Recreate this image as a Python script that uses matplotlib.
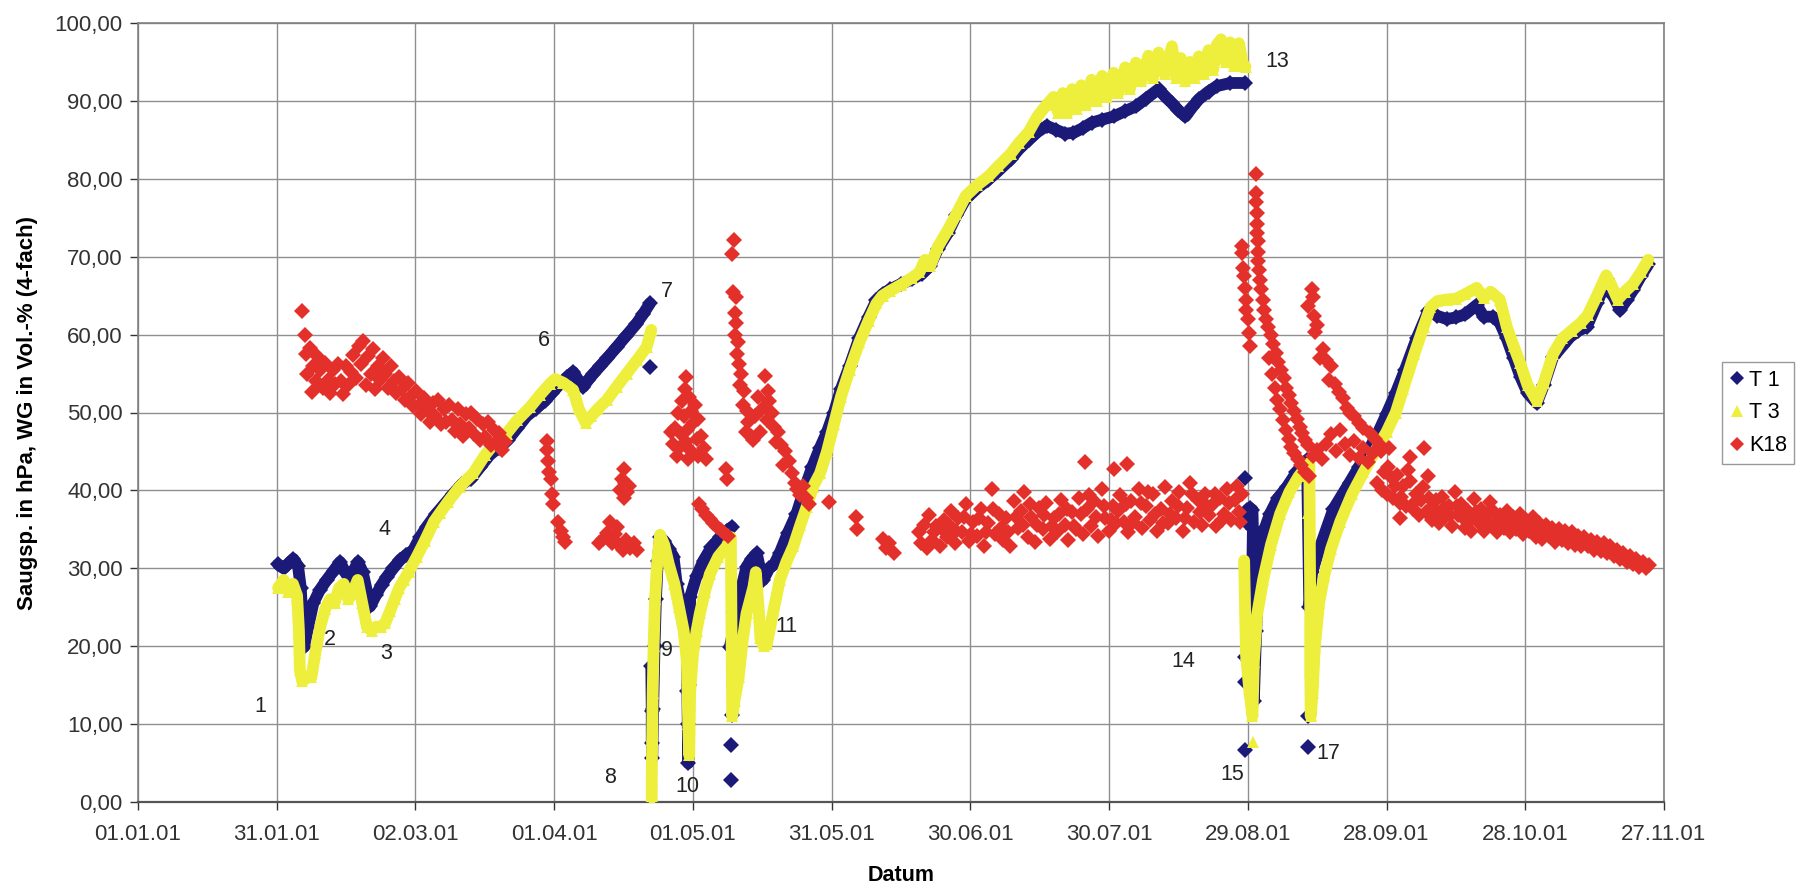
import matplotlib
matplotlib.use('Agg')
import matplotlib.pyplot as plt
import numpy as np

plt.rcParams['font.family'] = ['Liberation Sans', 'DejaVu Sans']

# x values are days counted from 01.01.01
TICK_DAYS = [0, 30, 60, 90, 120, 150, 180, 210, 240, 270, 300, 330]
TICK_LABELS = ['01.01.01', '31.01.01', '02.03.01', '01.04.01', '01.05.01', '31.05.01',
               '30.06.01', '30.07.01', '29.08.01', '28.09.01', '28.10.01', '27.11.01']
Y_TICKS = [0, 10, 20, 30, 40, 50, 60, 70, 80, 90, 100]

# T 1 readings (None = gap in the record)
T1 = [(30.3, 30.5), (31.5, 30.0), (32.5, 30.6), (33.6, 31.2), (34.6, 30.3), (35.2, 27.5),
      (35.6, 23.0), (35.9, 19.9), (36.8, 22.5), (37.9, 25.5), (39.3, 27.2), (40.8, 28.5),
      (42.3, 29.7), (43.7, 30.8), (44.8, 29.5), (45.8, 28.5), (46.7, 29.8), (47.6, 30.8),
      (48.6, 29.5), (49.5, 27.0), (50.2, 25.1), (51.5, 26.6), (52.7, 27.9), (53.8, 28.9),
      (55.2, 30.0), (56.7, 31.1), (58.0, 31.7), (59.5, 32.3), (61.0, 34.0), (62.4, 35.3),
      (64.5, 37.0), (66.5, 38.4), (68.2, 39.6), (70.0, 40.8), (72.0, 41.5), (74.0, 43.0),
      (76.0, 44.5), (78.0, 45.5), (80.0, 46.5), (82.0, 48.0), (84.0, 49.5), (86.0, 50.5),
      (88.0, 51.5), (89.5, 52.5), (91.3, 53.7), (92.7, 54.5), (94.1, 55.2), (95.2, 54.2),
      (96.3, 53.3), (97.4, 54.2), (98.5, 55.0), (100.0, 56.0), (101.5, 57.0), (103.5, 58.4),
      (105.5, 59.8), (107.8, 61.4), (109.3, 62.7), (110.7, 64.0),
      (None, None),
      (111.0, 17.4), (111.1, 11.7), (111.1, 7.6), (111.2, 5.6), (111.4, 12.0), (111.7, 20.0),
      (112.0, 26.0), (112.4, 31.0), (112.9, 34.0), (113.8, 33.5), (114.8, 32.5), (115.8, 31.5),
      (116.5, 28.0), (117.2, 25.9), (118.0, 24.5), (118.7, 23.4), (118.8, 14.3), (118.9, 10.0),
      (119.0, 5.0), (119.2, 15.0), (119.4, 26.3), (120.8, 29.0), (122.3, 31.0), (124.0, 32.7),
      (125.9, 34.0), (127.3, 34.8), (128.4, 35.3),
      (None, None),
      (128.0, 19.9), (129.5, 24.2), (130.5, 27.5), (131.6, 30.2), (132.7, 31.2), (133.8, 31.9),
      (134.5, 30.0), (135.2, 28.5), (136.5, 30.0), (137.6, 30.5), (138.8, 32.0), (140.5, 34.5),
      (142.4, 37.0), (144.0, 40.0), (145.8, 43.0), (147.5, 45.5), (149.0, 47.5), (150.5, 50.0),
      (152.0, 53.0), (153.9, 56.0), (156.0, 59.6), (158.0, 62.3), (159.7, 64.4), (161.0, 65.2),
      (162.6, 65.8), (165.0, 66.5), (167.4, 67.1), (169.5, 67.8), (171.3, 68.8), (173.0, 71.0),
      (175.2, 73.1), (177.0, 75.3), (179.0, 77.4), (181.5, 78.8), (183.9, 79.9), (186.0, 81.0),
      (188.7, 82.5), (190.5, 83.8), (192.6, 85.0), (194.5, 86.0), (196.5, 86.8), (198.5, 86.3),
      (200.5, 85.8), (202.3, 85.9), (204.3, 86.5), (206.2, 87.2), (208.5, 87.6), (211.0, 88.0),
      (213.5, 88.7), (215.8, 89.3), (218.0, 90.3), (220.7, 91.5), (222.2, 90.5), (223.6, 89.7),
      (225.0, 88.8), (226.5, 88.0), (228.0, 89.2), (229.4, 90.2), (231.5, 91.2), (233.3, 91.9),
      (236.2, 92.3), (239.3, 92.3),
      (None, None),
      (239.6, 36.0), (239.9, 37.5), (240.4, 37.7), (241.0, 37.5), (241.1, 35.0), (241.0, 31.0),
      (241.3, 13.0), (241.8, 22.0), (242.6, 32.0), (243.6, 35.0), (244.8, 37.0), (246.5, 39.0),
      (248.4, 40.4), (250.5, 42.3), (252.8, 43.9), (253.3, 25.0), (253.9, 29.5), (255.6, 32.7),
      (258.5, 37.6), (262.0, 41.0), (264.0, 43.0), (266.4, 45.5), (268.0, 47.2), (270.0, 49.8),
      (272.0, 52.5), (274.0, 55.5), (276.5, 59.5), (279.0, 63.0), (281.0, 62.4), (283.0, 62.0),
      (285.0, 62.2), (287.0, 62.6), (289.5, 63.8), (291.0, 62.3), (293.0, 62.3), (294.5, 61.5),
      (296.0, 59.5), (297.5, 57.0), (299.0, 54.5), (300.5, 52.5), (302.5, 51.2), (304.0, 53.5),
      (306.0, 57.1), (308.0, 58.5), (309.7, 59.7), (311.5, 60.5), (313.3, 61.0), (315.5, 64.0),
      (317.7, 67.2), (319.0, 65.0), (320.5, 63.2), (322.0, 64.5), (323.3, 65.7), (325.0, 67.5),
      (326.6, 69.0)]
T1_SINGLE = [(110.7, 55.9), (128.4, 11.2), (128.3, 7.3), (128.3, 2.8), (239.4, 41.6),
             (239.4, 18.6), (239.4, 15.4), (239.4, 6.7), (253.1, 11.1), (253.0, 7.1)]

# T 3 readings
T3 = [(30.3, 27.5), (31.5, 28.5), (32.5, 27.0), (33.5, 28.0), (34.4, 26.5), (34.8, 22.0),
      (35.0, 17.0), (35.5, 15.5), (36.5, 16.0), (37.5, 16.0), (38.3, 19.0), (39.4, 22.5),
      (40.5, 24.8), (41.5, 26.0), (42.5, 25.5), (43.5, 27.5), (44.5, 28.0), (45.5, 26.0),
      (46.5, 27.0), (47.5, 28.5), (48.5, 25.5), (49.5, 22.5), (50.5, 22.0), (51.5, 22.5),
      (52.5, 22.5), (53.5, 23.0), (54.5, 24.5), (55.5, 26.0), (56.5, 27.5), (57.5, 28.5),
      (58.5, 29.5), (60.3, 31.5), (62.0, 33.5), (64.0, 36.0), (65.3, 37.1), (67.0, 38.5),
      (69.6, 40.5), (72.5, 42.2), (75.0, 44.5), (77.0, 46.0), (79.7, 47.3), (82.0, 49.0),
      (84.8, 50.7), (87.0, 52.3), (89.1, 53.7), (90.2, 54.3), (92.0, 53.8), (94.1, 52.9),
      (95.3, 50.5), (96.8, 48.7), (98.0, 49.5), (99.5, 50.5), (101.4, 51.6), (103.5, 53.3),
      (105.7, 55.0), (108.0, 56.8), (110.0, 58.4), (111.0, 60.6),
      (None, None),
      (111.1, 0.0), (111.1, 3.0), (111.2, 8.0), (111.3, 14.0), (111.5, 20.0), (111.8, 26.0),
      (112.3, 31.0), (112.9, 34.3), (113.8, 33.0), (114.8, 30.5), (116.0, 28.0), (117.0, 25.0),
      (118.0, 22.0), (118.7, 18.0), (119.0, 10.0), (119.2, 6.0), (119.4, 14.0), (120.0, 19.0),
      (120.8, 22.0), (121.5, 24.2), (122.6, 27.0), (123.7, 29.3), (125.5, 31.5), (127.3, 32.8),
      (128.2, 34.0), (128.3, 25.0), (128.4, 18.0), (128.5, 11.0), (129.0, 13.0), (129.9, 16.0),
      (130.7, 20.5), (131.6, 24.2), (132.4, 26.0), (133.1, 27.6), (133.6, 29.5), (134.2, 25.0),
      (134.6, 21.0), (135.3, 20.0), (136.0, 20.3), (137.4, 24.5), (138.8, 28.5), (140.2, 30.8),
      (141.7, 32.8), (143.2, 35.5), (144.6, 37.9), (146.0, 40.5), (147.5, 42.2), (149.0, 45.0),
      (150.5, 48.5), (152.0, 52.0), (153.9, 55.5), (156.0, 59.0), (158.0, 61.8), (159.7, 64.0),
      (161.0, 65.0), (162.6, 65.6), (165.0, 66.4), (167.4, 67.3), (169.0, 68.0), (170.2, 69.6),
      (171.3, 68.8), (173.0, 71.3), (175.2, 73.5), (177.0, 75.5), (179.0, 77.8), (181.5, 79.2),
      (183.9, 80.3), (186.0, 81.6), (188.7, 83.2), (190.5, 84.6), (192.6, 86.0), (194.5, 88.0),
      (196.5, 89.5), (198.0, 90.5), (199.0, 88.5), (200.0, 91.0), (201.0, 88.5), (202.0, 91.5),
      (203.0, 89.0), (204.0, 92.0), (205.0, 89.5), (206.2, 92.7), (207.3, 90.0), (208.5, 93.2),
      (209.5, 90.5), (211.0, 93.6), (212.0, 91.0), (213.5, 94.3), (214.5, 91.5), (215.8, 94.9),
      (217.0, 92.5), (218.5, 95.8), (219.5, 93.0), (220.7, 96.2), (222.0, 93.5), (223.6, 97.0),
      (224.5, 93.0), (225.5, 95.5), (226.5, 92.5), (227.5, 95.0), (228.5, 93.0), (229.4, 95.7),
      (230.5, 93.5), (231.5, 96.5), (232.5, 94.0), (233.3, 97.2), (234.2, 97.9), (235.2, 95.0),
      (236.2, 97.5), (237.0, 94.5), (238.1, 97.4), (239.0, 94.5), (239.5, 94.4),
      (None, None),
      (239.2, 31.0), (239.4, 25.0), (239.6, 19.0), (240.3, 14.5), (241.0, 11.0), (241.3, 18.0),
      (242.0, 24.0), (243.3, 28.5), (245.0, 33.0), (247.0, 37.0), (249.0, 39.8), (251.0, 41.8),
      (253.3, 43.5), (253.4, 35.0), (253.5, 25.0), (253.5, 17.0), (253.6, 11.0), (254.0, 14.0),
      (254.5, 20.0), (255.4, 25.5), (256.5, 29.0), (258.0, 32.5), (260.0, 36.0), (262.5, 39.5),
      (265.0, 42.3), (267.5, 45.0), (270.0, 47.5), (272.0, 50.0), (273.6, 53.0), (276.0, 57.5),
      (278.0, 61.0), (279.5, 63.5), (281.0, 64.3), (283.0, 64.5), (285.0, 64.6), (287.0, 65.2),
      (289.5, 66.0), (291.0, 64.7), (292.5, 65.5), (294.5, 64.5), (296.0, 61.0), (297.5, 58.5),
      (298.9, 56.3), (300.5, 53.5), (302.5, 51.5), (304.0, 53.8), (306.0, 57.5), (308.0, 59.5),
      (310.0, 60.5), (312.0, 61.5), (313.5, 62.5), (315.5, 65.0), (317.5, 67.6), (318.5, 66.5),
      (320.0, 64.5), (321.5, 65.5), (323.3, 66.5), (325.0, 68.0), (326.6, 69.6)]
T3_SINGLE = [(241.1, 7.7), (253.0, 37.1), (111.1, 8.5)]

# K18 readings
K18 = [
    # Februar / Maerz
    (35.4, 63.0), (36.1, 60.0), (36.3, 57.5), (36.6, 55.0), (37.1, 58.3), (37.6, 52.6),
    (37.8, 56.0), (38.4, 54.0), (38.8, 57.2), (39.4, 55.5), (39.9, 53.2), (40.5, 56.3),
    (41.0, 54.2), (41.6, 52.5), (42.1, 55.4), (42.7, 53.6), (43.3, 56.2), (43.8, 54.0),
    (44.4, 52.4), (44.9, 56.0), (45.5, 53.5), (46.0, 55.2), (46.6, 57.4), (47.1, 54.4),
    (47.7, 58.6), (48.2, 56.2), (48.7, 59.2), (49.2, 53.5), (49.7, 57.2), (50.3, 55.0),
    (50.8, 58.2), (51.3, 53.0), (51.8, 56.0), (52.4, 54.2), (53.0, 57.0), (53.5, 55.0),
    (54.1, 53.2), (54.7, 56.0), (55.3, 54.0), (55.9, 52.5), (56.5, 54.6), (57.1, 53.0),
    (57.7, 51.6), (58.3, 53.8), (58.9, 52.0), (59.5, 50.8), (60.1, 52.8), (60.7, 51.0),
    (61.3, 49.8), (61.9, 51.9), (62.5, 50.3), (63.1, 48.8), (63.7, 51.2), (64.3, 49.5),
    (64.9, 51.6), (65.5, 48.5), (66.1, 50.5), (66.7, 48.8), (67.3, 51.0), (67.9, 49.0),
    (68.5, 47.6), (69.1, 50.4), (69.7, 48.5), (70.3, 47.0), (70.9, 49.8), (71.5, 48.0),
    (72.1, 50.0), (72.7, 47.2), (73.3, 49.2), (73.9, 46.5), (74.5, 48.5), (75.1, 46.8),
    (75.7, 48.8), (76.3, 45.8), (76.9, 47.8), (77.5, 46.2), (78.1, 47.4), (78.7, 45.2),
    (79.3, 46.2),
    # April
    (88.4, 46.4), (88.5, 45.2), (88.6, 43.8), (88.9, 42.4), (89.3, 41.4), (89.6, 39.6),
    (89.8, 38.2), (90.8, 36.0), (91.4, 34.8), (91.9, 34.0), (92.3, 33.4),
    (105.0, 42.8), (104.6, 41.5), (105.4, 41.0), (104.2, 40.0), (105.8, 39.8), (105.0, 39.0),
    (106.2, 40.6), (102.0, 36.0), (101.5, 34.5), (100.5, 33.8), (102.5, 33.2), (103.2, 34.4),
    (104.0, 33.0), (104.8, 32.4), (105.6, 33.6), (106.4, 32.6), (107.2, 33.2), (108.0, 32.4),
    (99.6, 33.2), (103.6, 35.3),
    (118.5, 54.5), (118.2, 53.0), (117.6, 51.5), (119.2, 52.0), (116.8, 50.0), (118.0, 49.5),
    (119.6, 50.2), (120.5, 51.0), (116.2, 48.0), (117.4, 47.2), (118.8, 47.8), (120.0, 48.6),
    (121.2, 49.2), (115.8, 46.0), (117.0, 45.4), (118.4, 46.2), (119.6, 45.0), (120.8, 46.6),
    (121.8, 47.0), (122.4, 45.4), (116.6, 44.4), (119.0, 44.0), (121.0, 44.4), (115.2, 47.5),
    (122.8, 44.0),
    # Mai
    (121.3, 38.2), (122.0, 37.6), (122.8, 36.9), (123.6, 36.3), (124.4, 35.8), (125.2, 35.3),
    (126.0, 34.9), (126.8, 34.5), (127.6, 34.2), (127.2, 42.8), (127.4, 41.5),
    (128.8, 72.2), (128.5, 70.3), (128.7, 65.5), (129.3, 64.8), (129.0, 62.8), (129.4, 61.5),
    (129.2, 60.0), (129.8, 59.0), (129.5, 57.5), (130.0, 56.2), (130.5, 55.0), (130.2, 53.5),
    (131.0, 52.8), (130.8, 51.0), (131.6, 50.2), (132.0, 48.8), (131.4, 47.5), (132.6, 47.0),
    (135.5, 54.7), (136.2, 52.8), (136.5, 51.5), (134.0, 52.0), (135.0, 50.5), (137.0, 50.0),
    (136.0, 49.0), (137.6, 48.2), (138.5, 47.5), (139.0, 45.8), (138.0, 46.2), (140.0, 45.0),
    (139.4, 43.2), (140.8, 43.8), (141.5, 42.2), (142.0, 41.0), (142.6, 40.2), (143.2, 39.4),
    (143.8, 40.6), (144.5, 39.0), (145.0, 38.2), (133.5, 49.5), (133.0, 46.5), (134.5, 47.5),
    (149.5, 38.5), (155.3, 36.6), (155.4, 35.0), (161.2, 33.8), (161.8, 32.6), (162.4, 33.2),
    (163.4, 32.0), (168.8, 34.6), (169.4, 33.2), (170.0, 35.6), (170.6, 32.6),
    # Juni - August
    (171.0, 36.8), (171.8, 33.6), (172.6, 35.4), (173.4, 32.8), (174.2, 36.2), (175.0, 34.0),
    (175.8, 37.4), (176.6, 33.2), (177.4, 36.4), (178.2, 34.6), (179.0, 38.2), (179.8, 33.5),
    (180.6, 36.0), (181.4, 34.2), (182.2, 37.6), (183.0, 32.9), (183.8, 35.8), (184.6, 40.2),
    (185.4, 34.4), (186.2, 37.0), (187.0, 33.6), (187.8, 36.5), (188.6, 32.8), (189.4, 38.6),
    (190.2, 35.2), (191.0, 37.4), (191.6, 39.8), (192.4, 34.0), (193.2, 36.6), (194.0, 33.4),
    (194.8, 37.8), (195.6, 35.0), (196.4, 38.4), (197.2, 33.8), (198.0, 36.4), (198.8, 34.6),
    (199.6, 38.8), (200.4, 35.6), (201.2, 33.6), (202.0, 37.2), (202.8, 35.0), (203.6, 39.0),
    (204.4, 34.4), (204.7, 43.6), (205.2, 37.6), (206.0, 35.4), (206.8, 38.6), (207.6, 34.2),
    (208.4, 40.2), (209.2, 36.4), (210.0, 34.8), (210.8, 38.0), (211.0, 42.8), (211.6, 35.8),
    (212.4, 39.4), (213.2, 36.0), (213.9, 43.4), (214.0, 34.6), (214.8, 38.6), (215.6, 36.6),
    (216.4, 40.2), (217.2, 35.2), (218.0, 38.0), (218.8, 36.2), (219.6, 39.6), (220.4, 34.8),
    (221.2, 37.6), (222.0, 40.4), (222.8, 35.8), (223.6, 38.6), (224.4, 36.4), (225.2, 39.8),
    (226.0, 34.8), (226.8, 37.8), (227.6, 41.0), (228.4, 36.0), (229.2, 38.8), (230.0, 35.6),
    (230.8, 39.6), (231.6, 36.8), (232.4, 38.2), (233.2, 35.4), (234.0, 39.0), (234.8, 37.0),
    (235.6, 40.2), (236.4, 36.2), (237.2, 38.8), (238.0, 37.2), (238.8, 39.6),
    (172.2, 34.6), (173.8, 35.0), (175.4, 35.6), (177.0, 34.8), (178.6, 36.6), (180.2, 34.4),
    (181.8, 36.4), (183.4, 34.6), (185.0, 37.6), (186.6, 35.2), (188.2, 34.6), (189.8, 36.6),
    (191.4, 35.6), (193.0, 38.2), (194.4, 35.6), (196.0, 36.8), (197.6, 35.4), (199.2, 37.0),
    (200.8, 37.6), (202.4, 35.4), (204.0, 37.0), (205.6, 39.4), (207.2, 36.6), (208.8, 38.0),
    (210.4, 36.2), (212.0, 37.4), (213.6, 38.2), (215.2, 36.0), (216.8, 38.4), (218.4, 39.8),
    (220.0, 37.0), (221.6, 35.8), (223.2, 37.0), (224.8, 38.0), (226.4, 36.4), (228.0, 39.6),
    (229.6, 37.2), (231.2, 38.0), (232.8, 39.6), (234.4, 36.2), (236.0, 38.4), (237.6, 40.6),
    (238.4, 36.0),
    # September
    (238.7, 71.4), (238.8, 70.5), (239.0, 68.5), (239.1, 67.5), (239.3, 66.0), (239.5, 64.5),
    (239.7, 63.2), (240.0, 62.0), (240.2, 60.2), (240.4, 58.5),
    (241.7, 80.6), (241.8, 78.2), (241.8, 77.0), (241.9, 75.6), (241.9, 74.2), (242.0, 73.1),
    (242.1, 72.0), (242.1, 70.6), (242.2, 69.5), (242.4, 68.3), (242.6, 67.0), (242.9, 65.8),
    (243.2, 64.5), (243.6, 63.2), (244.0, 62.0), (244.4, 61.0), (245.0, 60.0), (245.5, 58.8),
    (246.0, 57.6), (246.6, 56.5), (247.2, 55.5), (247.8, 54.4), (248.3, 53.2), (248.8, 52.2),
    (249.4, 51.2), (250.0, 50.2), (250.6, 49.2), (251.2, 48.2), (251.8, 47.4), (252.4, 46.5),
    (253.0, 45.8),
    (244.5, 57.0), (245.2, 55.0), (245.8, 53.2), (246.4, 51.6), (247.0, 50.4), (247.6, 49.0),
    (248.2, 47.8), (248.8, 46.6), (249.4, 45.6), (250.0, 44.8), (250.8, 44.0), (251.6, 43.2),
    (252.4, 42.4), (253.2, 41.8), (254.0, 44.4), (255.0, 45.2), (256.0, 44.0), (257.0, 46.0),
    (258.0, 47.2), (259.0, 45.0), (260.0, 47.8), (261.0, 46.0), (262.0, 44.6), (263.0, 46.4),
    (264.0, 44.2), (265.0, 45.4), (266.0, 43.6), (267.0, 44.8),
    (253.8, 65.8), (253.0, 63.7), (254.0, 64.8), (254.3, 62.4), (254.6, 60.3), (255.0, 61.2),
    (256.3, 58.1), (255.6, 57.0), (257.0, 56.8), (258.0, 56.0), (257.6, 54.2), (258.8, 53.6),
    (259.7, 52.6), (260.5, 51.8), (261.4, 50.6), (262.2, 50.0), (263.0, 49.6), (264.0, 48.6),
    (265.0, 48.0), (266.4, 47.4), (267.5, 46.6), (268.5, 45.8),
    # Oktober / November
    (268.0, 41.0), (268.7, 45.0), (269.4, 42.4), (270.1, 39.6), (270.5, 45.4), (270.8, 41.8),
    (271.5, 39.0), (272.2, 42.0), (272.9, 38.4), (273.0, 36.4), (273.6, 40.6), (274.3, 38.0),
    (275.0, 41.2), (275.1, 44.3), (275.7, 37.6), (276.4, 39.6), (277.1, 36.8), (277.8, 40.4),
    (278.0, 45.4), (278.5, 37.2), (278.9, 41.9), (279.2, 39.0), (279.9, 36.2), (280.6, 38.8),
    (281.3, 35.8), (282.0, 39.2), (282.7, 36.6), (283.4, 38.0), (284.1, 35.4), (284.8, 39.8),
    (285.5, 36.8), (286.2, 38.2), (286.9, 35.2), (287.6, 37.4), (288.3, 34.8), (289.0, 38.9),
    (289.7, 36.0), (290.4, 37.6), (291.1, 34.8), (291.8, 37.0), (292.3, 38.5), (292.5, 35.6),
    (293.2, 37.2), (293.9, 34.6), (294.6, 36.8), (295.3, 35.2), (296.0, 37.4), (296.7, 34.6),
    (297.4, 36.6), (298.1, 35.0), (298.8, 37.0), (299.5, 34.4), (300.2, 36.2), (300.9, 34.8),
    (301.6, 36.6), (302.3, 34.0), (303.0, 35.8), (303.7, 33.8), (304.4, 35.6), (305.1, 34.2),
    (305.8, 35.2), (306.5, 33.4), (307.2, 35.0), (307.9, 33.6), (308.6, 34.8), (309.3, 33.2),
    (310.0, 34.6), (310.7, 33.0), (311.4, 34.2), (312.1, 32.8), (312.8, 34.0), (313.5, 32.8),
    (314.2, 33.6), (314.9, 32.4), (315.6, 33.4), (316.3, 32.2), (317.0, 33.2), (317.7, 32.0),
    (318.4, 32.8), (319.1, 31.6), (319.8, 32.4), (320.5, 31.2), (321.2, 32.0), (321.9, 30.8),
    (322.6, 31.6), (323.3, 30.6), (324.0, 31.2), (324.7, 30.2), (325.4, 30.8), (326.1, 30.0),
    (326.8, 30.4),
    (269.0, 40.0), (270.4, 43.0), (271.8, 40.6), (273.2, 39.2), (274.6, 42.6), (276.0, 38.4),
    (277.4, 38.8), (279.5, 37.6), (280.9, 37.2), (282.4, 37.8), (283.8, 36.8), (285.2, 38.0),
    (286.6, 36.4), (288.0, 36.2), (289.4, 37.2), (290.8, 36.2), (292.0, 36.0), (293.6, 35.8),
    (295.0, 36.0), (296.4, 35.8), (297.8, 35.8), (299.2, 35.6), (300.6, 35.4), (302.0, 35.2),
    (303.4, 34.8), (304.8, 34.8), (306.2, 34.4), (307.6, 34.2), (309.0, 34.0), (310.4, 33.8),
    (311.8, 33.4), (313.2, 33.4), (314.6, 33.0), (316.0, 32.8), (317.4, 32.6), (318.8, 32.2),
    (320.2, 31.8), (321.6, 31.4), (323.0, 31.0), (324.4, 30.8), (325.8, 30.4)]

# event numbers written into the chart
EVENT_TEXT = ['1', '2', '3', '4', '6', '7', '8', '9', '10', '11', '13', '14', '15', '17']
EVENT_DAY = [26.4, 41.5, 53.6, 53.2, 87.8, 114.3, 102.1, 114.3, 118.7, 140.3, 246.3, 226.0, 236.6, 257.4]
EVENT_VAL = [12.3, 20.9, 19.1, 35.0, 59.3, 65.5, 3.1, 19.5, 2.0, 22.5, 95.1, 18.1, 3.5, 6.2]

BLUE = '#1c1a78'
YELLOW = '#eeee3c'
RED = '#e3302b'


def xy(points):
    a = np.array(points, dtype=float)
    return a[:, 0], a[:, 1]


fig = plt.figure(figsize=(18.02, 8.9), dpi=100)
ax = fig.add_axes([138 / 1802, 1 - 802 / 890, 1526 / 1802, 779 / 890])

for pts, single, color, marker, z in [(T1, T1_SINGLE, BLUE, 'D', 3),
                                      (T3, T3_SINGLE, YELLOW, '^', 4)]:
    x, y = xy(pts)
    ax.plot(x, y, '-', color=color, lw=8.5, solid_capstyle='round',
            solid_joinstyle='round', zorder=z)
    ax.plot(x, y, linestyle='none', marker=marker, ms=8.5, mew=0, color=color, zorder=z)
    sx, sy = xy(single)
    ax.plot(sx, sy, linestyle='none', marker=marker, ms=8.5, mew=0, color=color, zorder=z)

kx, ky = xy(K18)
ax.plot(kx, ky, linestyle='none', marker='D', ms=8.2, mew=0, color=RED, zorder=5)

for t, d, v in zip(EVENT_TEXT, EVENT_DAY, EVENT_VAL):
    ax.text(d, v, t, fontsize=15.5, color='#222222', ha='center', va='center', zorder=6)

ax.set_xlim(0, 330)
ax.set_ylim(0, 100)
ax.set_xticks(TICK_DAYS)
ax.set_xticklabels(TICK_LABELS)
ax.set_yticks(Y_TICKS)
ax.set_yticklabels([('%.2f' % v).replace('.', ',') for v in Y_TICKS])
ax.tick_params(axis='both', labelsize=16, colors='#333333', length=6, width=1)
ax.tick_params(axis='x', pad=10)
ax.tick_params(axis='y', pad=5)
ax.grid(True, color='#8f8f8f', lw=1)
ax.set_axisbelow(True)
for s in ['top', 'right', 'left']:
    ax.spines[s].set_color('#808080')
    ax.spines[s].set_linewidth(1.2)
ax.spines['bottom'].set_color('#555555')
ax.spines['bottom'].set_linewidth(1.6)

ax.set_xlabel('Datum', fontsize=15.5, fontweight='bold', labelpad=14)
ax.set_ylabel('Saugsp. in hPa, WG in Vol.-% (4-fach)', fontsize=16, fontweight='bold', labelpad=12)

handles = [
    plt.Line2D([], [], linestyle='none', marker='D', ms=7, mew=0, color=BLUE),
    plt.Line2D([], [], linestyle='none', marker='^', ms=8, mew=0, color=YELLOW),
    plt.Line2D([], [], linestyle='none', marker='D', ms=7, mew=0, color=RED),
]
leg = fig.legend(handles, ['T 1', 'T 3', 'K18'], loc='upper left',
                 bbox_to_anchor=(1722 / 1802, 1 - 362 / 890), fontsize=15.5,
                 frameon=True, fancybox=False, borderpad=0.35, handlelength=0.7,
                 handletextpad=0.2, labelspacing=0.55, borderaxespad=0)
leg.get_frame().set_edgecolor('#808080')
leg.get_frame().set_linewidth(1)

fig.savefig('out.png', dpi=100)
